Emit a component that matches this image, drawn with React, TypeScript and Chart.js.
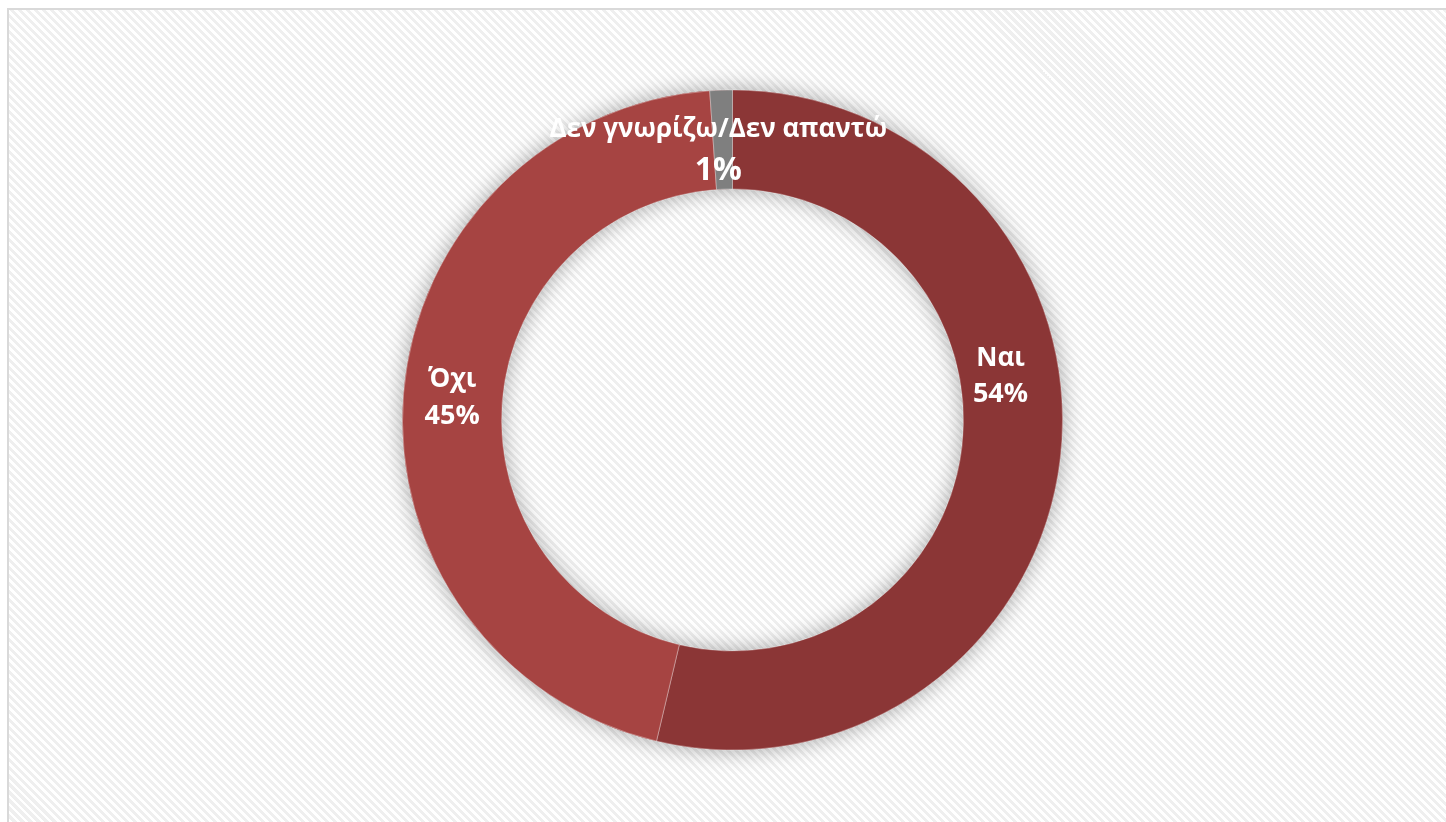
import React, { useEffect, useRef } from "react";
import { Chart, registerables } from "chart.js";

Chart.register(...registerables);

const categories = ["Ναι", "Όχι", "Δεν γνωρίζω/Δεν απαντώ"];
const values = [53.7, 45.2, 1.1];
const valueLabels = ["54%", "45%", "1%"];
const colors = ["#8B3636", "#A64442", "#7F7F7F"];
// label placement (polar, degrees clockwise from top, fraction of outer radius)
const labelAngles = [80.7, 274.5, -3];
const labelRadii = [0.823, 0.852, 0.82];

const labelPlugin = {
  id: "ringLabels",
  beforeDatasetsDraw(chart: any) {
    const meta = chart.getDatasetMeta(0);
    const arc = meta.data[0];
    if (!arc) return;
    const { x, y, outerRadius, innerRadius } = arc.getProps(["x", "y", "outerRadius", "innerRadius"], true);
    const ctx = chart.ctx;
    ctx.save();
    ctx.shadowColor = "rgba(0,0,0,0.35)";
    ctx.shadowBlur = 22;
    ctx.beginPath();
    ctx.arc(x, y, outerRadius, 0, Math.PI * 2);
    ctx.arc(x, y, innerRadius, 0, Math.PI * 2, true);
    ctx.closePath();
    ctx.fillStyle = "#8B3636";
    ctx.fill();
    ctx.restore();
  },
  afterDatasetsDraw(chart: any) {
    const meta = chart.getDatasetMeta(0);
    const ctx = chart.ctx;
    ctx.save();
    ctx.fillStyle = "#FFFFFF";
    ctx.textAlign = "center";
    ctx.textBaseline = "middle";
    meta.data.forEach((el: any, i: number) => {
      const { x, y, outerRadius } = el.getProps(["x", "y", "outerRadius"], true);
      const a = (labelAngles[i] * Math.PI) / 180;
      const r = outerRadius * labelRadii[i];
      const cx = x + Math.sin(a) * r;
      const cy = y - Math.cos(a) * r;
      const big = i === 2;
      ctx.font = `bold 26px "Open Sans", "Noto Sans", sans-serif`;
      const gap = big ? 20 : 18;
      ctx.fillText(categories[i], cx, cy - gap);
      ctx.font = `bold ${big ? 32 : 27}px "Open Sans", "Noto Sans", sans-serif`;
      ctx.fillText(valueLabels[i], cx, cy + gap + (big ? 1 : 0));
    });
    ctx.restore();
  },
};

export default function App() {
  const ref = useRef<HTMLCanvasElement>(null);
  useEffect(() => {
    if (!ref.current) return;
    const chart = new Chart(ref.current, {
      type: "doughnut",
      data: {
        labels: categories,
        datasets: [
          {
            data: values,
            backgroundColor: colors,
            borderColor: "rgba(255,255,255,0.35)",
            borderWidth: 1,
          },
        ],
      },
      options: {
        animation: false,
        responsive: true,
        maintainAspectRatio: false,
        radius: 330,
        cutout: "70%",
        layout: { padding: { left: 10, top: 8, right: 0, bottom: 0 } },
        plugins: { legend: { display: false }, tooltip: { enabled: false } },
      } as any,
      plugins: [labelPlugin],
    });
    return () => chart.destroy();
  }, []);
  return (
    <div
      style={{
        position: "fixed",
        left: 7,
        top: 8,
        width: 1480,
        height: 840,
        boxSizing: "border-box",
        border: "2px solid #D9D9D9",
        background:
          "repeating-linear-gradient(45deg, #FFFFFF 0px, #FFFFFF 2.8px, #EFEFEF 2.8px, #EFEFEF 5.66px)",
        overflow: "hidden",
      }}
    >
      <div style={{ position: "absolute", left: 0, top: 0, width: 1437, height: 812 }}>
        <canvas ref={ref} />
      </div>
    </div>
  );
}
